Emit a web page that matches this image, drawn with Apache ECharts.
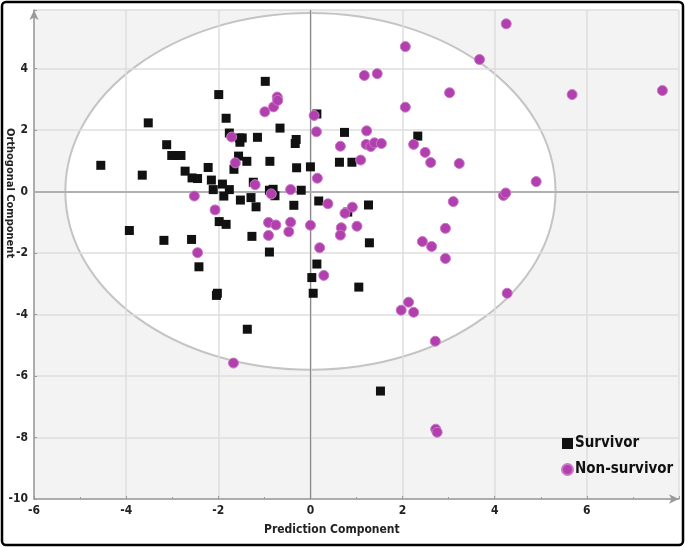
<!DOCTYPE html>
<html>
<head>
<meta charset="utf-8">
<script src="https://cdn.jsdelivr.net/npm/echarts@6/dist/echarts.min.js"></script>
<style>html,body{margin:0;padding:0;background:#fff;}#c{width:685px;height:547px;}</style>
</head>
<body>
<div id="c"></div>
<script>
// Survivors: [Prediction Component, Orthogonal Component]
const survivors = [
  [-4.55,0.85],[-3.93,-1.27],[-3.52,2.23],[-3.65,0.53],[-3.12,1.52],[-3.18,-1.59],
  [-3.01,1.17],[-2.91,1.17],[-2.81,1.17],[-2.72,0.66],[-2.58,-1.56],[-2.57,0.44],
  [-2.45,0.42],[-2.42,-2.45],[-2.22,0.78],[-2.15,0.37],[-2.11,0.06],[-1.99,3.15],
  [-1.98,-0.98],[-1.83,-1.07],[-1.91,0.24],[-1.88,-0.15],[-1.83,2.38],[-1.76,1.90],
  [-1.76,0.06],[-1.66,0.72],[-1.54,1.74],[-1.48,1.74],[-1.53,1.60],[-1.56,1.15],
  [-1.52,-0.28],[-1.38,0.98],[-1.29,-0.20],[-1.27,-1.46],[-1.24,0.30],[-1.18,-0.50],
  [-1.15,1.76],[-0.98,3.58],[-0.89,0.04],[-0.81,0.07],[-0.77,-0.14],[-0.88,0.98],
  [-0.89,-1.97],[-0.66,2.06],[-0.36,-0.45],[-0.31,1.69],[-0.33,1.56],[-0.30,0.77],
  [-0.20,0.04],[0.00,0.80],[0.14,2.52],[0.18,-0.31],[0.14,-2.36],[0.03,-2.80],
  [0.06,-3.31],[0.63,0.95],[0.74,1.92],[0.81,-0.67],[0.90,0.95],[1.05,-3.11],
  [1.26,-0.44],[1.28,-1.67],[1.52,-6.49],[2.33,1.80],[-2.02,-3.31],[-2.04,-3.38],
  [-1.37,-4.48]
];
// Non-survivors
const nonSurvivors = [
  [-2.52,-0.15],[-2.07,-0.60],[-2.45,-1.99],[-1.71,1.77],[-1.63,0.93],[-1.67,-5.58],
  [-1.20,0.22],[-0.99,2.59],[-0.80,2.75],[-0.72,3.07],[-0.71,2.96],[-0.91,-1.01],
  [-0.75,-1.09],[-0.91,-1.43],[-0.85,-0.08],[-0.43,0.06],[-0.43,-1.00],[-0.47,-1.31],
  [0.00,-1.10],[0.08,2.47],[0.13,1.94],[0.15,0.43],[0.20,-1.83],[0.29,-2.73],
  [0.38,-0.40],[0.65,1.47],[0.67,-1.18],[0.65,-1.42],[0.75,-0.71],[0.91,-0.51],
  [1.01,-1.13],[1.09,1.02],[1.17,3.77],[1.45,3.83],[1.22,1.97],[1.21,1.53],
  [1.31,1.46],[1.39,1.58],[1.54,1.56],[1.97,-3.86],[2.13,-3.60],[2.24,-3.93],
  [2.06,2.74],[2.06,4.71],[2.24,1.53],[2.49,1.27],[2.61,0.94],[2.43,-1.63],
  [2.63,-1.79],[2.93,-1.20],[2.93,-2.18],[2.71,-4.87],[2.72,-7.73],[2.75,-7.83],
  [3.02,3.21],[3.10,-0.33],[3.23,0.91],[3.67,4.29],[4.19,-0.13],[4.24,-0.05],
  [4.27,-3.31],[4.25,5.45],[4.90,0.32],[5.68,3.15],[7.64,3.28]
];
// Hotelling T2 ellipse: [centerX, centerY, radiusX, radiusY]
const ellipse = [[0, 0, 5.32, 5.8]];
const xTicks = [-6, -4, -2, 0, 2, 4, 6];
const yTicks = [-10, -8, -6, -4, -2, 0, 2, 4];

const FONT = "'DejaVu Sans Condensed', 'Liberation Sans Narrow', 'Liberation Sans', sans-serif";
const chart = echarts.init(document.getElementById('c'), null, {renderer: 'canvas'});
chart.setOption({
  animation: false,
  backgroundColor: '#ffffff',
  grid: {left: 34, right: 6, top: 10, bottom: 48, show: true, backgroundColor: '#f3f3f3', borderWidth: 0},
  xAxis: {
    type: 'value', min: -6, max: 8, interval: 2, z: 3,
    axisLine: {onZero: false, lineStyle: {color: '#9a9a9a', width: 1.5}, symbol: ['none', 'arrow'], symbolSize: [7, 10]},
    axisTick: {show: true, inside: true, length: 3, lineStyle: {color: '#9a9a9a'}},
    minorTick: {show: true, splitNumber: 2, length: 2, lineStyle: {color: '#9a9a9a'}},
    splitLine: {show: true, lineStyle: {color: '#dedede', width: 1.5}},
    axisLabel: {
      margin: 6, color: '#222', fontFamily: FONT, fontWeight: 'bold', fontSize: 12,
      formatter: v => xTicks.includes(v) ? String(v) : ''
    }
  },
  yAxis: {
    type: 'value', min: -10, max: 5.9, interval: 2, z: 3,
    axisLine: {onZero: false, lineStyle: {color: '#9a9a9a', width: 1.5}, symbol: ['none', 'arrow'], symbolSize: [7, 10]},
    axisTick: {show: true, inside: true, length: 3, lineStyle: {color: '#9a9a9a'}},
    splitLine: {show: true, lineStyle: {color: '#dedede', width: 1.5}},
    axisLabel: {
      margin: 6, color: '#222', fontFamily: FONT, fontWeight: 'bold', fontSize: 12,
      formatter: v => yTicks.includes(v) ? String(v) : ''
    }
  },
  legend: {
    data: [
      {name: 'Survivor', icon: 'rect'},
      {name: 'Non-survivor', icon: 'circle'}
    ],
    orient: 'vertical', left: 556, top: 431, itemGap: 11, itemWidth: 11, itemHeight: 11,
    textStyle: {fontFamily: FONT, fontWeight: 'bold', fontSize: 15, color: '#111', padding: [0, 0, 0, -3]}
  },
  series: [
    {
      type: 'custom', z: 1, silent: true,
      data: ellipse,
      renderItem: (params, api) => {
        const c = api.coord([api.value(0), api.value(1)]);
        const s = api.size([api.value(2), api.value(3)]);
        return {
          type: 'ellipse',
          shape: {cx: c[0], cy: c[1], rx: s[0], ry: s[1]},
          style: {fill: '#ffffff', stroke: '#c4c4c4', lineWidth: 2}
        };
      }
    },
    {
      type: 'line', z: 4, silent: true, data: [],
      markLine: {
        silent: true, symbol: 'none', label: {show: false},
        data: [
          {xAxis: 0, lineStyle: {color: '#8a8a8a', width: 1.2, type: 'solid'}},
          {yAxis: 0, lineStyle: {color: '#b0b0b0', width: 2, type: 'solid'}}
        ]
      }
    },
    {
      name: 'Survivor', type: 'scatter', z: 5, symbol: 'rect', symbolSize: 9,
      itemStyle: {color: '#111111', opacity: 1},
      data: survivors
    },
    {
      name: 'Non-survivor', type: 'scatter', z: 6, symbol: 'circle', symbolSize: 10,
      itemStyle: {color: '#b13fae', borderColor: '#c878c4', borderWidth: 1, opacity: 1},
      data: nonSurvivors
    }
  ],
  graphic: [
    {type: 'rect', z: 100, shape: {x: 2, y: 2, width: 681, height: 543, r: 4}, style: {fill: 'none', stroke: '#000', lineWidth: 2.5}},
    {type: 'text', z: 100, left: 264, top: 524, style: {text: 'Prediction Component', font: "bold 12px 'DejaVu Sans Condensed', 'Liberation Sans Narrow', sans-serif", fill: '#222'}},
    {type: 'text', z: 100, x: 15, y: 128, rotation: -Math.PI / 2, style: {text: 'Orthogonal Component', font: "bold 11px 'DejaVu Sans Condensed', 'Liberation Sans Narrow', sans-serif", fill: '#222'}}
  ]
});
</script>
</body>
</html>
